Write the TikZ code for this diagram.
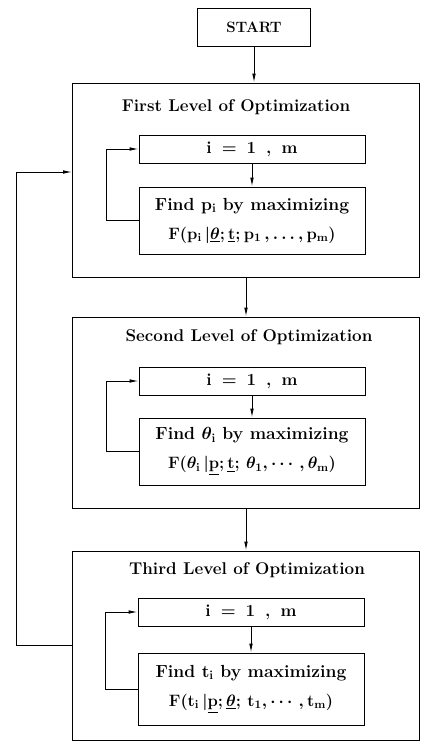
\RequirePackage{fix-cm}
\documentclass[tikz,border=0pt]{standalone}
\usepackage{amsmath}
\usetikzlibrary{positioning,calc,arrows.meta}

\newcommand{\gap}{\hspace{10pt}}

\tikzset{
  box/.style={draw, line width=0.9pt, inner sep=2pt},
  levelbox/.style={box, minimum width=347pt, minimum height=#1},
  loopbox/.style={box, minimum width=226pt, minimum height=28pt,
    font=\fontsize{17}{19}\selectfont\bfseries},
  findbox/.style={box, minimum width=226pt, minimum height=#1, align=center,
    font=\fontsize{17.5}{29}\selectfont\bfseries\boldmath},
  leveltitle/.style={font=\fontsize{17}{19}\selectfont\bfseries},
  arr/.style={line width=0.9pt, -{Latex[length=9pt,width=3.6pt]}},
}

\begin{document}
\begin{tikzpicture}[x=1pt,y=-1pt]
\useasboundingbox (0,0) rectangle (423,742);

%% start and the three levels
\node[box, minimum width=113pt, minimum height=38pt,
  font=\fontsize{15}{17}\selectfont\bfseries] (start) at (254,27) {START};
\node[levelbox=194pt] (lvl1) at (246,180) {};
\node[levelbox=191pt] (lvl2) at (246,412.5) {};
\node[levelbox=189pt] (lvl3) at (246,645.5) {};

\node[leveltitle] (title1) at (236,107) {First Level of Optimization};
\node[leveltitle] (title2) at (249,337) {Second Level of Optimization};
\node[leveltitle] (title3) at (247,570) {Third Level of Optimization};

%% inner loops
\node[loopbox] (i1) at (252,149) {i\gap=\gap1\gap,\gap m};
\node[loopbox] (i2) at (252,381) {i\gap=\gap1\gap,\gap m};
\node[loopbox] (i3) at (251,612) {i\gap=\gap1\gap,\gap m};

\node[findbox=67pt] (find1) at (252,220.5)
  {Find $\mathbf{p}_\mathbf{i}$ by maximizing\\
   {\fontsize{16.5}{18}\selectfont
   $\mathbf{F}(\mathbf{p}_\mathbf{i}\,|\underline{\theta};\underline{\mathbf{t}};\mathbf{p}_\mathbf{1}\,,\ldots,\mathbf{p}_\mathbf{m})$}};
\node[findbox=67pt] (find2) at (252,451.5)
  {Find $\theta_\mathbf{i}$ by maximizing\\
   {\fontsize{16.5}{18}\selectfont
   $\mathbf{F}(\theta_\mathbf{i}\,|\underline{\mathbf{p}};\underline{\mathbf{t}};\,\theta_\mathbf{1},\cdots,\theta_\mathbf{m})$}};
\node[findbox=72pt] (find3) at (251,689)
  {Find $\mathbf{t}_\mathbf{i}$ by maximizing\\
   {\fontsize{16.5}{18}\selectfont
   $\mathbf{F}(\mathbf{t}_\mathbf{i}\,|\underline{\mathbf{p}};\underline{\theta};\,\mathbf{t}_\mathbf{1},\cdots,\mathbf{t}_\mathbf{m})$}};

%% connectors
\draw[arr] (start.south) -- (start.south |- lvl1.north);
\draw[arr] (lvl1.south) -- (lvl2.north);
\draw[arr] (lvl2.south) -- (lvl3.north);

\foreach \k in {1,2,3} {
  \draw[arr] (i\k.south) -- (find\k.north);
  \draw[arr] (find\k.west) -- ++(-32,0) |- (i\k.west);
}

% feedback from the third level to the first
\draw[arr] (lvl3.west) -- ++(-55.5,0) |- ([yshift=8pt]lvl1.west);

\end{tikzpicture}
\end{document}
